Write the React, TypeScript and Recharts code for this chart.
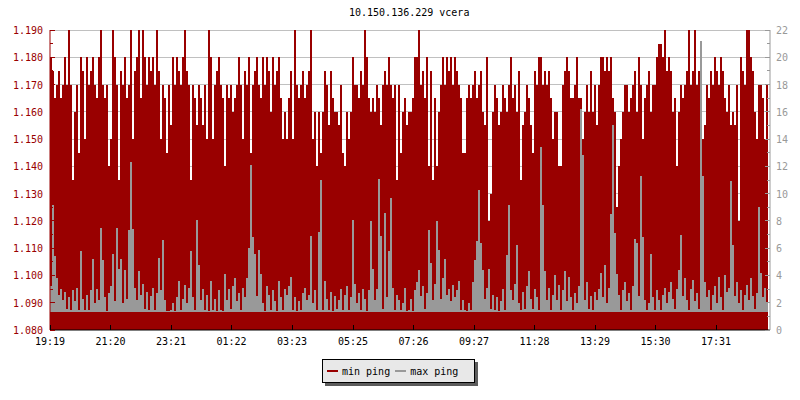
import React from 'react';
import { ComposedChart, Area, XAxis, YAxis, CartesianGrid, Legend } from 'recharts';

// sample interval: 4 minutes, starting 19:19
const sampleMinutes = 4;

const minPing = [
  1.18,1.175,1.165,1.17,1.175,1.165,1.17,1.18,1.17,1.19,
  1.17,1.135,1.16,1.17,1.145,1.18,1.175,1.15,1.18,1.17,
  1.175,1.18,1.17,1.165,1.18,1.19,1.17,1.165,1.17,1.14,
  1.15,1.19,1.18,1.17,1.135,1.175,1.17,1.18,1.165,1.17,
  1.19,1.15,1.175,1.18,1.19,1.165,1.19,1.18,1.17,1.18,
  1.175,1.18,1.17,1.19,1.175,1.15,1.17,1.165,1.145,1.17,
  1.155,1.18,1.17,1.18,1.175,1.17,1.18,1.19,1.175,1.17,
  1.135,1.17,1.165,1.155,1.17,1.165,1.155,1.17,1.15,1.19,
  1.18,1.15,1.17,1.175,1.18,1.17,1.165,1.14,1.17,1.165,
  1.17,1.16,1.165,1.17,1.18,1.17,1.15,1.175,1.17,1.18,
  1.145,1.17,1.175,1.18,1.17,1.165,1.18,1.17,1.18,1.175,
  1.16,1.18,1.17,1.175,1.18,1.165,1.15,1.16,1.15,1.165,
  1.175,1.15,1.19,1.17,1.165,1.17,1.175,1.165,1.17,1.175,
  1.19,1.15,1.16,1.14,1.16,1.145,1.16,1.175,1.17,1.155,
  1.175,1.165,1.16,1.16,1.155,1.17,1.145,1.14,1.16,1.15,
  1.16,1.18,1.17,1.17,1.165,1.175,1.17,1.19,1.18,1.165,
  1.16,1.165,1.16,1.17,1.165,1.155,1.17,1.175,1.17,1.18,
  1.17,1.165,1.17,1.135,1.17,1.145,1.16,1.165,1.155,1.16,
  1.16,1.165,1.18,1.18,1.19,1.17,1.175,1.165,1.18,1.14,
  1.175,1.135,1.165,1.14,1.16,1.17,1.18,1.17,1.18,1.175,
  1.18,1.17,1.18,1.175,1.17,1.165,1.145,1.145,1.165,1.17,
  1.165,1.17,1.175,1.165,1.17,1.175,1.16,1.155,1.18,1.12,
  1.13,1.16,1.17,1.165,1.155,1.16,1.17,1.165,1.16,1.17,
  1.18,1.165,1.17,1.16,1.175,1.135,1.155,1.16,1.17,1.165,
  1.155,1.145,1.175,1.17,1.18,1.18,1.17,1.175,1.17,1.175,
  1.165,1.15,1.16,1.16,1.14,1.14,1.17,1.175,1.18,1.175,
  1.165,1.165,1.17,1.18,1.165,1.165,1.15,1.16,1.17,1.16,
  1.175,1.16,1.17,1.155,1.17,1.18,1.18,1.175,1.18,1.175,
  1.18,1.165,1.16,1.125,1.14,1.15,1.16,1.17,1.17,1.16,
  1.165,1.17,1.175,1.16,1.18,1.17,1.15,1.165,1.17,1.175,
  1.16,1.17,1.17,1.18,1.185,1.185,1.18,1.19,1.175,1.18,
  1.175,1.16,1.165,1.14,1.16,1.17,1.165,1.17,1.175,1.19,
  1.17,1.175,1.19,1.17,1.175,1.165,1.15,1.155,1.17,1.165,
  1.175,1.17,1.18,1.175,1.17,1.18,1.175,1.165,1.16,1.17,
  1.155,1.16,1.155,1.17,1.12,1.18,1.175,1.17,1.19,1.19,
  1.18,1.175,1.16,1.15,1.17,1.17,1.165,1.15,1.17,1.165,
];

const maxPing = [
  3.2,9.2,5.4,3.8,2.6,3.0,2.2,2.8,1.55,2.4,
  1.5,2.9,2.1,3.1,1.45,5.8,2.3,1.5,2.6,1.45,
  2.9,5.2,2.0,3.0,2.2,7.5,5.1,2.4,1.4,2.7,
  3.2,5.6,2.1,7.5,4.5,5.2,2.0,4.4,2.3,7.3,
  12.3,7.4,3.1,2.2,4.3,2.6,3.4,1.55,2.8,1.45,
  2.5,3.1,1.5,2.7,5.3,2.9,6.6,2.2,1.4,1.4,
  1.45,2.0,1.4,2.4,3.6,1.5,2.3,3.3,2.0,3.1,
  5.8,2.4,1.45,8.1,4.8,2.2,3.0,1.5,2.6,1.4,
  3.6,1.45,2.3,1.4,2.9,1.5,1.4,4.1,2.2,3.0,
  1.55,3.2,3.8,2.1,2.7,1.5,3.1,2.4,3.8,6.0,
  12.1,6.8,5.6,2.5,5.9,4.1,2.0,1.4,3.2,2.6,
  1.45,2.9,2.1,1.4,3.6,2.4,1.5,3.0,2.6,3.2,
  3.9,1.5,2.4,1.4,2.1,1.45,2.7,3.1,2.2,2.6,
  6.9,2.0,2.9,1.45,7.2,11.0,1.5,3.6,2.3,1.45,
  2.8,1.4,2.5,1.55,2.2,3.0,1.45,2.6,3.2,1.5,
  2.4,8.1,3.4,2.0,2.7,1.45,3.0,2.3,1.4,2.9,
  8.0,4.5,2.2,3.0,11.1,6.9,1.55,8.6,2.4,5.8,
  9.7,3.1,1.5,2.6,2.2,1.45,2.0,3.1,1.4,1.5,
  2.3,1.4,2.9,3.5,4.4,2.5,3.2,1.55,2.7,7.3,
  4.9,2.2,3.4,8.0,5.9,2.3,3.8,5.2,2.6,3.0,
  2.1,3.3,2.4,2.9,3.6,1.5,2.2,1.45,1.4,2.0,
  1.5,3.5,5.1,6.5,10.3,6.4,4.4,2.3,3.1,4.5,
  1.55,2.6,1.45,2.4,1.4,2.1,3.0,1.5,5.5,9.2,
  2.9,2.2,3.4,6.2,2.0,1.45,2.8,1.55,3.2,4.3,
  2.3,1.55,3.0,2.4,1.45,13.4,9.2,4.3,2.2,3.1,
  1.5,2.6,4.0,2.2,3.3,1.45,2.9,4.3,2.1,3.9,
  2.4,1.5,2.7,2.0,3.2,16.2,12.8,2.2,3.5,1.55,
  2.5,1.45,2.8,2.2,3.0,4.2,2.4,4.8,2.0,3.1,
  8.5,15.0,7.1,4.1,2.6,1.5,2.9,3.5,2.1,2.7,
  1.5,3.2,6.7,6.4,2.5,11.3,6.8,2.2,1.45,2.0,
  5.6,2.4,1.5,2.9,2.2,1.45,2.6,3.1,2.0,2.8,
  3.5,2.3,1.55,3.0,4.4,7.0,2.5,3.8,2.2,1.5,
  3.0,3.7,2.1,2.7,1.55,21.2,11.3,3.5,2.4,2.9,
  1.5,2.6,3.2,2.0,3.9,2.4,1.45,4.0,2.8,3.1,
  10.9,6.2,2.5,3.5,2.0,2.9,1.5,2.6,3.3,2.2,
  3.8,2.5,1.55,2.7,9.0,4.2,2.4,3.1,2.0,3.2,
];

// lowest level the max-ping trace ever touches (its flat floor)
const maxPingFloor = 1.34;

const xTickMinutes = [0, 121, 242, 363, 484, 606, 727, 848, 969, 1090, 1211, 1332];
const xTickLabels = ['19:19', '21:20', '23:21', '01:22', '03:23', '05:25', '07:26', '09:27', '11:28', '13:29', '15:30', '17:31'];

const leftTicks = [1.08, 1.085, 1.09, 1.095, 1.1, 1.105, 1.11, 1.115, 1.12, 1.125, 1.13, 1.135, 1.14, 1.145, 1.15, 1.155, 1.16, 1.165, 1.17, 1.175, 1.18, 1.185, 1.19];
const leftGridValues = [1.09, 1.1, 1.11, 1.12, 1.13, 1.14, 1.15, 1.16, 1.17, 1.18, 1.19];
const rightTicks = [0, 1, 2, 3, 4, 5, 6, 7, 8, 9, 10, 11, 12, 13, 14, 15, 16, 17, 18, 19, 20, 21, 22];

const title = '10.150.136.229 vcera';
const seriesNames = ['min ping', 'max ping'];

const RED = '#990000';
const GRAY = '#999999';
const FONT = '"DejaVu Sans Mono", monospace';

const data = minPing.map((v, i) => ({ t: i * sampleMinutes, min: v, max: maxPing[i] }));

const LeftTick = (props: any) => {
  const { x, y, index, payload } = props;
  const major = index % 2 === 0;
  return (
    <g>
      <line x1={x} x2={x + (major ? 5 : 3)} y1={y} y2={y} stroke={RED} shapeRendering="crispEdges" />
      {major && (
        <text x={x - 7} y={y + 4} textAnchor="end" fill={RED} fontSize={10} fontFamily={FONT}>
          {Number(payload.value).toFixed(3)}
        </text>
      )}
    </g>
  );
};

const RightTick = (props: any) => {
  const { x, y, index, payload } = props;
  const major = index % 2 === 0;
  return (
    <g>
      <line x1={x} x2={x - (major ? 5 : 3)} y1={y} y2={y} stroke={GRAY} shapeRendering="crispEdges" />
      {major && (
        <text x={x + 6} y={y + 4} textAnchor="start" fill={GRAY} fontSize={10} fontFamily={FONT}>
          {payload.value}
        </text>
      )}
    </g>
  );
};

const BottomTick = (props: any) => {
  const { x, y, index } = props;
  return (
    <g>
      <line x1={x} x2={x} y1={y} y2={y - 5} stroke="#000" shapeRendering="crispEdges" />
      <text x={x} y={y + 15} textAnchor="middle" fill="#000" fontSize={10} fontFamily={FONT}>
        {xTickLabels[index]}
      </text>
    </g>
  );
};

const LegendBox = () => (
  <div
    style={{
      width: 153,
      height: 24,
      boxSizing: 'border-box',
      background: '#e8e8e8',
      border: '1px solid #000',
      boxShadow: '3px 3px 0 #5c5c5c',
      fontFamily: FONT,
      fontSize: 10,
      display: 'flex',
      alignItems: 'center',
      paddingLeft: 4,
      color: '#000',
    }}
  >
    <span style={{ display: 'inline-block', width: 11, height: 2, background: RED, marginRight: 4 }} />
    <span style={{ marginRight: 5 }}>{seriesNames[0]}</span>
    <span style={{ display: 'inline-block', width: 11, height: 2, background: GRAY, marginRight: 4 }} />
    <span>{seriesNames[1]}</span>
  </div>
);

export default function App() {
  return (
    <div style={{ position: 'absolute', left: 0, top: 0, width: 800, height: 400, background: '#fff' }}>
      <div
        style={{
          position: 'absolute',
          left: 349,
          top: 7,
          fontFamily: FONT,
          fontSize: 10,
          lineHeight: '12px',
          color: '#000',
          whiteSpace: 'pre',
        }}
      >
        {title}
      </div>
      <ComposedChart
        width={800}
        height={400}
        data={data}
        margin={{ top: 30, right: 0, bottom: 26, left: 0 }}
      >
        <CartesianGrid
          yAxisId="left"
          vertical={false}
          horizontalValues={leftGridValues}
          stroke="#c0c0c0"
          shapeRendering="crispEdges"
        />
        <Area
          yAxisId="left"
          dataKey="min"
          name={seriesNames[0]}
          type="stepAfter"
          fill={RED}
          fillOpacity={1}
          stroke="none"
          isAnimationActive={false}
          shapeRendering="crispEdges"
        />
        <Area
          yAxisId="right"
          dataKey="max"
          name={seriesNames[1]}
          type="stepAfter"
          baseValue={maxPingFloor}
          fill={GRAY}
          fillOpacity={1}
          stroke="none"
          dot={false}
          activeDot={false}
          isAnimationActive={false}
          shapeRendering="crispEdges"
        />
        <XAxis
          dataKey="t"
          type="number"
          domain={[0, 1440]}
          ticks={xTickMinutes}
          interval={0}
          height={20}
          tickSize={0}
          tickMargin={0}
          tick={<BottomTick />}
          tickLine={false}
          axisLine={{ stroke: '#000' }}
          allowDataOverflow
        />
        <YAxis
          yAxisId="left"
          orientation="left"
          domain={[1.08, 1.19]}
          ticks={leftTicks}
          interval={0}
          width={50}
          tickSize={0}
          tickMargin={0}
          tick={<LeftTick />}
          tickLine={false}
          axisLine={{ stroke: RED }}
          allowDataOverflow
        />
        <YAxis
          yAxisId="right"
          orientation="right"
          domain={[0, 22]}
          ticks={rightTicks}
          interval={0}
          width={30}
          tickSize={0}
          tickMargin={0}
          tick={<RightTick />}
          tickLine={false}
          axisLine={{ stroke: GRAY }}
          allowDataOverflow
        />
        <Legend
          verticalAlign="bottom"
          content={<LegendBox />}
          wrapperStyle={{ left: 322, top: 359, bottom: 'auto', width: 153, height: 24 }}
        />
      </ComposedChart>
    </div>
  );
}
